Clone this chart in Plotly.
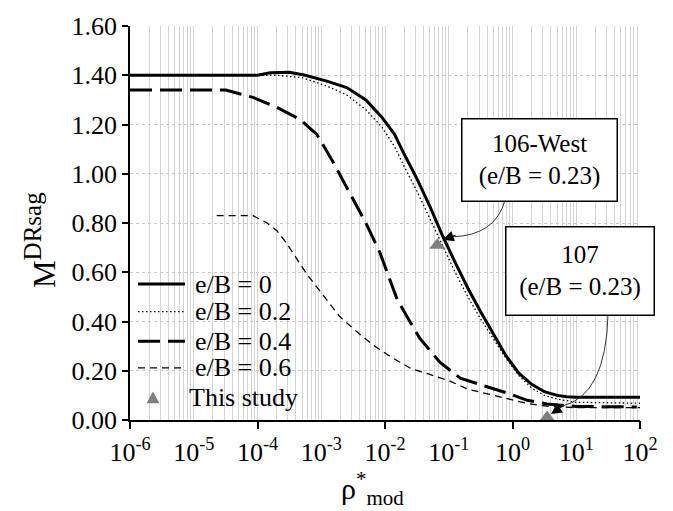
import plotly.graph_objects as go

# ---- data (x given as log10 exponents of rho*_mod) ----
eb0_exp = [-6, -4.0, -3.8, -3.5, -3.25, -2.9, -2.6, -2.3, -2.05, -1.85, -1.7, -1.5, -1.3, -1.1,
           -0.9, -0.7, -0.5, -0.3, -0.1, 0.1, 0.3, 0.5, 0.7, 0.85, 1.0, 2.0]
eb0_val = [1.40, 1.40, 1.41, 1.412, 1.40, 1.375, 1.35, 1.30, 1.23, 1.16, 1.08, 0.98, 0.87, 0.75,
           0.64, 0.535, 0.44, 0.35, 0.26, 0.19, 0.145, 0.115, 0.10, 0.094, 0.092, 0.092]

eb02_exp = [-6, -4.0, -3.7, -3.3, -2.9, -2.6, -2.3, -2.05, -1.85, -1.7, -1.5, -1.3, -1.1,
            -0.9, -0.7, -0.5, -0.3, -0.1, 0.1, 0.3, 0.5, 0.7, 1.0, 1.5, 2.0]
eb02_val = [1.40, 1.40, 1.40, 1.39, 1.355, 1.32, 1.26, 1.19, 1.11, 1.03, 0.93, 0.82, 0.71,
            0.60, 0.50, 0.41, 0.33, 0.25, 0.18, 0.13, 0.10, 0.085, 0.072, 0.069, 0.068]

eb04_exp = [-6, -4.5, -4.07, -3.7, -3.33, -3.07, -2.82, -2.55, -2.3, -2.08, -1.81, -1.61, -1.45,
            -1.14, -0.82, -0.4, -0.09, 0.23, 0.54, 1.0, 1.95]
eb04_val = [1.34, 1.34, 1.31, 1.27, 1.22, 1.16, 1.05, 0.92, 0.80, 0.68, 0.49, 0.40, 0.33,
            0.235, 0.17, 0.135, 0.11, 0.08, 0.065, 0.055, 0.053]

eb06_exp = [-4.64, -4.07, -3.85, -3.7, -3.55, -3.4, -3.22, -2.95, -2.71, -2.45, -2.19, -1.9, -1.6,
            -1.3, -1.0, -0.7, -0.4, -0.1, 0.23, 0.54, 1.0, 2.0]
eb06_val = [0.83, 0.83, 0.80, 0.77, 0.72, 0.66, 0.59, 0.50, 0.42, 0.36, 0.305, 0.255, 0.21,
            0.185, 0.16, 0.125, 0.105, 0.088, 0.067, 0.056, 0.05, 0.05]

study_x = [0.066, 3.5]
study_y = [0.71, 0.01]

series_names = ["e/B = 0", "e/B = 0.2", "e/B = 0.4", "e/B = 0.6", "This study"]

x_tick_exp = [-6, -5, -4, -3, -2, -1, 0, 1, 2]
x_major_exp = [-6, -4, -2, 0, 2]
y_ticks = [0.0, 0.2, 0.4, 0.6, 0.8, 1.0, 1.2, 1.4, 1.6]

FONT = "Liberation Serif"
STYLES = [dict(color="black", width=3),
          dict(color="black", width=1.3, dash="1.5px,2.5px"),
          dict(color="black", width=3, dash="22px,8px"),
          dict(color="black", width=1.3, dash="7px,5px")]
TRI_COLOR = "#808080"


def tx(e):
    return [10 ** v for v in e]


fig = go.Figure()
for (ex, vals), name, st in zip([(eb0_exp, eb0_val), (eb02_exp, eb02_val),
                                 (eb04_exp, eb04_val), (eb06_exp, eb06_val)],
                                series_names[:4], STYLES):
    fig.add_trace(go.Scatter(x=tx(ex), y=vals, mode="lines", name=name, line=st,
                             showlegend=False))
fig.add_trace(go.Scatter(x=study_x, y=study_y, mode="markers", name=series_names[4],
                         showlegend=False,
                         marker=dict(symbol="triangle-up", size=14, color=TRI_COLOR)))
# axis carrying the sparse tick marks
fig.add_trace(go.Scatter(x=[1e-6], y=[0], xaxis="x2", mode="markers", showlegend=False,
                         marker=dict(opacity=0), hoverinfo="skip"))

ticktext = ["10<sup>%d</sup>" % e for e in x_tick_exp]

fig.update_layout(
    width=673, height=511,
    margin=dict(l=130, r=33, t=20, b=91),
    paper_bgcolor="white", plot_bgcolor="white",
    font=dict(family=FONT, size=25, color="black"),
    showlegend=False,
    xaxis=dict(type="log", range=[-6, 2],
               tickvals=[10 ** e for e in x_tick_exp], ticktext=ticktext,
               ticks="outside", ticklen=8, tickcolor="rgba(0,0,0,0)",
               showline=True, linecolor="black", linewidth=1.5,
               showgrid=True, gridcolor="#d4d4d4", gridwidth=1,
               minor=dict(dtick="D1", showgrid=True, gridcolor="#d4d4d4", gridwidth=1, ticks=""),
               tickfont=dict(family=FONT, size=26), zeroline=False),
    xaxis2=dict(type="log", range=[-6, 2], overlaying="x", anchor="y", side="bottom",
                tickvals=[10 ** e for e in x_major_exp], ticks="outside", ticklen=8,
                tickcolor="black", tickwidth=1.5, showticklabels=False, showgrid=False,
                showline=False, zeroline=False),
    yaxis=dict(range=[0, 1.6], tickvals=y_ticks, tickformat=".2f",
               ticks="outside", ticklen=6, tickcolor="black", tickwidth=1.5,
               showline=True, linecolor="black", linewidth=1.5,
               showgrid=True, gridcolor="#c8c8c8", gridwidth=1, griddash="dot",
               tickfont=dict(family=FONT, size=26), zeroline=False),
)

# axis titles
fig.add_annotation(xref="paper", yref="paper", x=-0.176, y=0.4575, showarrow=False,
                   text='M<sup><span style="font-size:25px">DRsag</span></sup>', textangle=-90,
                   font=dict(family=FONT, size=31), xanchor="center", yanchor="middle")
fig.add_annotation(xref="paper", yref="paper", x=0.476, y=-0.175, showarrow=False,
                   text="ρ<sup>*</sup><sub>mod</sub>",
                   font=dict(family=FONT, size=30), xanchor="center", yanchor="middle")

# legend (drawn by hand to match the original row spacing)
leg_rows_y = [0.345, 0.275, 0.2, 0.1325, 0.0575]
for i, st in enumerate(STYLES):
    yy = leg_rows_y[i]
    fig.add_shape(type="line", xref="paper", yref="paper", x0=0.0157, x1=0.1078, y0=yy, y1=yy,
                  line=st)
    fig.add_annotation(xref="paper", yref="paper", x=0.1235, y=yy, text=series_names[i],
                       showarrow=False, xanchor="left", yanchor="middle",
                       font=dict(family=FONT, size=26))
yy = leg_rows_y[4]
fig.add_shape(type="path", xref="paper", yref="paper",
              path="M 0.0323,%.4f L 0.0578,%.4f L 0.045,%.4f Z" % (yy - 0.015, yy - 0.015, yy + 0.015),
              fillcolor=TRI_COLOR, line=dict(width=0))
fig.add_annotation(xref="paper", yref="paper", x=0.1118, y=yy, text=series_names[4],
                   showarrow=False, xanchor="left", yanchor="middle",
                   font=dict(family=FONT, size=26))

# boxed labels
fig.add_annotation(xref="paper", yref="paper", x=0.802, y=0.661, showarrow=False,
                   text="106-West<br>(e/B = 0.23)", font=dict(family=FONT, size=25),
                   bgcolor="white", bordercolor="black", borderwidth=1.5, borderpad=1,
                   width=152, height=79, align="center", xanchor="center", yanchor="middle")
fig.add_annotation(xref="paper", yref="paper", x=0.883, y=0.379, showarrow=False,
                   text="107<br>(e/B = 0.23)", font=dict(family=FONT, size=25),
                   bgcolor="white", bordercolor="black", borderwidth=1.5, borderpad=1,
                   width=145, height=85, align="center", xanchor="center", yanchor="middle")

# curved leader lines
fig.add_shape(type="path", xref="paper", yref="paper",
              path="M 0.7353,0.5575 Q 0.7157,0.4675 0.6314,0.465",
              line=dict(color="#333333", width=1))
fig.add_shape(type="path", xref="paper", yref="paper",
              path="M 0.9373,0.2675 Q 0.9333,0.0625 0.8471,0.035",
              line=dict(color="#333333", width=1))
# arrow heads
fig.add_annotation(xref="paper", yref="paper", x=0.6137, y=0.4575, ax=14, ay=-5,
                   text="", showarrow=True, arrowhead=2, arrowsize=1.8, arrowwidth=1.2,
                   arrowcolor="black", standoff=0)
fig.add_annotation(xref="paper", yref="paper", x=0.8255, y=0.015, ax=13, ay=-9,
                   text="", showarrow=True, arrowhead=2, arrowsize=1.8, arrowwidth=1.2,
                   arrowcolor="black", standoff=0)

fig.write_html("out.html")
